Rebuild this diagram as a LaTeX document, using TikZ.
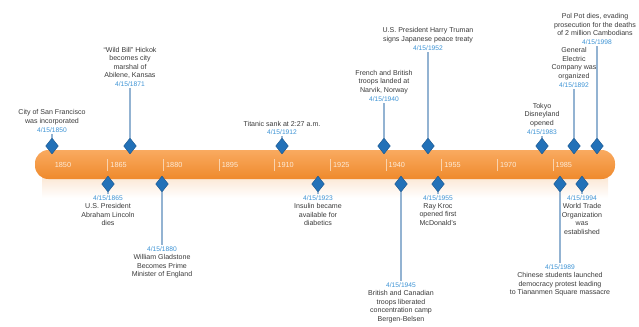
\documentclass[tikz,border=0pt]{standalone}
\usepackage{fontspec}
\setmainfont{Liberation Sans}
\usetikzlibrary{shapes.geometric}
\definecolor{barlight}{HTML}{F9AA60}
\definecolor{bardark}{HTML}{EF8A2C}
\definecolor{txtgray}{HTML}{3A3A3A}
\definecolor{dateblue}{HTML}{3B92D4}
\definecolor{gemblue}{HTML}{2271B8}
\definecolor{gemdark}{HTML}{17548C}
\definecolor{linkblue}{HTML}{93B3D2}
\definecolor{yearcol}{HTML}{FDEBD8}
\begin{document}
\begin{tikzpicture}[x=0.75pt,y=-0.75pt,
  evtext/.style={font=\fontsize{5.3}{6.4}\selectfont, text=txtgray, align=center, inner sep=0.6pt},
  datetext/.style={font=\fontsize{5}{6}\selectfont, text=dateblue, inner sep=1.2pt},
  gem/.style={diamond, fill=gemblue, draw=gemdark, line width=0.3pt, minimum width=9.5pt, minimum height=12pt, inner sep=0pt},
  link/.style={draw=linkblue, line width=1pt},
  yearlbl/.style={font=\fontsize{5.5}{6}\selectfont, text=yearcol},
  barbox/.style={rectangle, rounded corners=10pt, top color=barlight, bottom color=bardark, minimum width=435pt, minimum height=21.75pt, inner sep=0pt},
  tickline/.style={draw=yearcol, line width=0.4pt, opacity=0.7}]
\useasboundingbox (0,0) rectangle (639,326);
% glow under the bar
\shade[top color=bardark!25, bottom color=white] (42,172) rectangle (608,198);
% bar
\node[barbox] (bar) at (325,164.5) {};
% ticks and year labels
\foreach \yr [count=\i from 0] in {1850,1865,1880,1895,1910,1925,1940,1955,1970,1985} {
  \pgfmathsetmacro{\tx}{52+\i*55.65}
  \node[yearlbl] (y\i) at (\tx+11,165) {\yr};
  \ifnum\i>0 \draw[tickline] (\tx,159) -- (\tx,171); \fi
}
% ---------- top events ----------
\node[datetext] (d1) at (52,130) {4/15/1850};
\node[evtext, anchor=south] (t1) at (d1.north) {City of San Francisco\\was incorporated};
\node[datetext] (d2) at (130,84) {4/15/1871};
\node[evtext, anchor=south] (t2) at (d2.north) {``Wild Bill'' Hickok\\becomes city\\marshal of\\Abilene, Kansas};
\node[datetext] (d3) at (282,132) {4/15/1912};
\node[evtext, anchor=south] (t3) at (d3.north) {Titanic sank at 2:27 a.m.};
\node[datetext] (d4) at (384,99) {4/15/1940};
\node[evtext, anchor=south] (t4) at (d4.north) {French and British\\troops landed at\\Narvik, Norway};
\node[datetext] (d5) at (428,48) {4/15/1952};
\node[evtext, anchor=south] (t5) at (d5.north) {U.S. President Harry Truman\\signs Japanese peace treaty};
\node[datetext] (d6) at (542,132) {4/15/1983};
\node[evtext, anchor=south] (t6) at (d6.north) {Tokyo\\Disneyland\\opened};
\node[datetext] (d7) at (574,85) {4/15/1892};
\node[evtext, anchor=south] (t7) at (d7.north) {General\\Electric\\Company was\\organized};
\node[datetext] (d8) at (597,42) {4/15/1998};
\node[evtext, anchor=south] (t8) at (595,37) {Pol Pot dies, evading\\prosecution for the deaths\\of 2 million Cambodians};
% ---------- bottom events ----------
\node[datetext] (b1) at (108,198) {4/15/1865};
\node[evtext, anchor=north] (u1) at (b1.south) {U.S. President\\Abraham Lincoln\\dies};
\node[datetext] (b2) at (162,249) {4/15/1880};
\node[evtext, anchor=north] (u2) at (b2.south) {William Gladstone\\Becomes Prime\\Minister of England};
\node[datetext] (b3) at (318,198) {4/15/1923};
\node[evtext, anchor=north] (u3) at (b3.south) {Insulin became\\available for\\diabetics};
\node[datetext] (b4) at (401,285) {4/15/1945};
\node[evtext, anchor=north] (u4) at (b4.south) {British and Canadian\\troops liberated\\concentration camp\\Bergen-Belsen};
\node[datetext] (b5) at (438,198) {4/15/1955};
\node[evtext, anchor=north] (u5) at (b5.south) {Ray Kroc\\opened first\\McDonald's};
\node[datetext] (b6) at (560,267) {4/15/1989};
\node[evtext, anchor=north] (u6) at (b6.south) {Chinese students launched\\democracy protest leading\\to Tiananmen Square massacre};
\node[datetext] (b7) at (582,198) {4/15/1994};
\node[evtext, anchor=north] (u7) at (b7.south) {World Trade\\Organization\\was\\established};
% ---------- diamonds ----------
\foreach \n/\x in {g1/52,g2/130,g3/282,g4/384,g5/428,g6/542,g7/574,g8/597}
  \node[gem] (\n) at (\x,146) {};
\foreach \n/\x in {h1/108,h2/162,h3/318,h4/401,h5/438,h6/560,h7/582}
  \node[gem] (\n) at (\x,184) {};
% ---------- connectors ----------
\foreach \i in {1,...,8} \draw[link] (d\i.south) -- (g\i.north);
\foreach \i in {1,...,7} \draw[link] (h\i.south) -- (b\i.north);
\end{tikzpicture}
\end{document}
